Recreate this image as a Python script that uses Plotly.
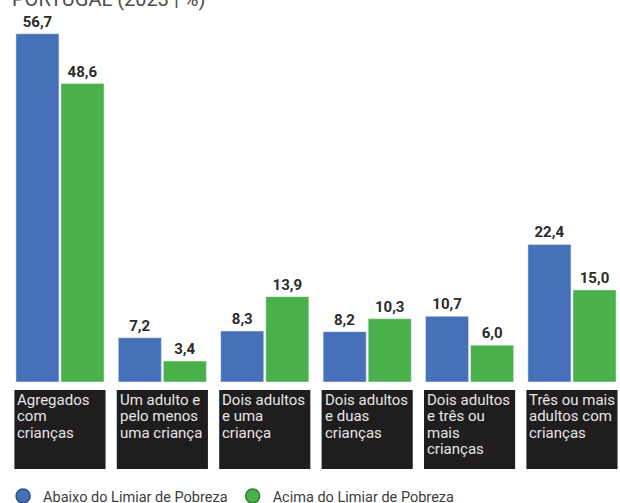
import plotly.graph_objects as go

# Data
categories = ["Agregados<br>com<br>crianças",
              "Um adulto e<br>pelo menos<br>uma criança",
              "Dois adultos<br>e uma<br>criança",
              "Dois adultos<br>e duas<br>crianças",
              "Dois adultos<br>e três ou<br>mais<br>crianças",
              "Três ou mais<br>adultos com<br>crianças"]
abaixo = [56.7, 7.2, 8.3, 8.2, 10.7, 22.4]
acima = [48.6, 3.4, 13.9, 10.3, 6.0, 15.0]

title = "PORTUGAL (2023 | %)"
blue = "#4671b9"
green = "#4ab04a"
font = "Roboto"

x = list(range(len(categories)))

fig = go.Figure()
for name, vals, col in [("Abaixo do Limiar de Pobreza", abaixo, blue),
                        ("Acima do Limiar de Pobreza", acima, green)]:
    fig.add_trace(go.Bar(x=x, y=vals, marker_color=col, showlegend=False,
                         texttemplate="%{y:.1f}", textposition="outside",
                         cliponaxis=False,
                         textfont=dict(family=font, size=15, color="#2b2b2b", weight=700)))

# legend entries with round markers
for name, col, edge in [("Abaixo do Limiar de Pobreza", blue, "#2d4f8c"),
                        ("Acima do Limiar de Pobreza", green, "#2c7d2c")]:
    fig.add_trace(go.Scatter(x=[None], y=[None], mode="markers", name=name,
                             marker=dict(size=14, color=col, line=dict(color=edge, width=1.5))))

# black category boxes under each group
plot_h = 382
for i, cat in enumerate(categories):
    fig.add_shape(type="rect", xref="x", yref="paper",
                  x0=i - 0.445, x1=i + 0.445,
                  y0=(plot_h - 469) / plot_h, y1=(plot_h - 390) / plot_h,
                  fillcolor="#1f1d1e", line_width=0, layer="above")
    for j, line in enumerate(cat.split("<br>")):
        fig.add_annotation(xref="x", yref="paper", x=i - 0.435, xanchor="left",
                           y=(plot_h - 400 - j * 16.3) / plot_h, yanchor="middle",
                           text=line, showarrow=False,
                           font=dict(family=font, size=15, color="#e6e6e6"))

# title, partly above the top edge as in the original
fig.add_annotation(xref="paper", yref="paper", x=0, xanchor="left",
                   y=1 - 13 / plot_h, yanchor="bottom", text=title, showarrow=False,
                   font=dict(family=font, size=20, color="#4d4d4d"))

fig.update_layout(
    width=620, height=503,
    margin=dict(l=10, r=0, t=0, b=121),
    plot_bgcolor="white", paper_bgcolor="white",
    barmode="group", bargap=0.12, bargroupgap=0.045,
    separators=",.",
    xaxis=dict(range=[-0.488, 5.469], showticklabels=False, showgrid=False,
               zeroline=False, showline=False, fixedrange=True),
    yaxis=dict(range=[0, 62.2], visible=False, showgrid=False, zeroline=False),
    legend=dict(orientation="h", xref="container", x=0.005, xanchor="left",
                yref="container", y=7 / 503, yanchor="middle",
                font=dict(family=font, size=14.5, color="#3d3d3d"),
                tracegroupgap=0),
    font=dict(family=font),
)

# drop the default body margin so the figure sits at the page corner
fig.write_html("out.html", config={"displayModeBar": False},
               post_script="document.body.style.margin='0';")
